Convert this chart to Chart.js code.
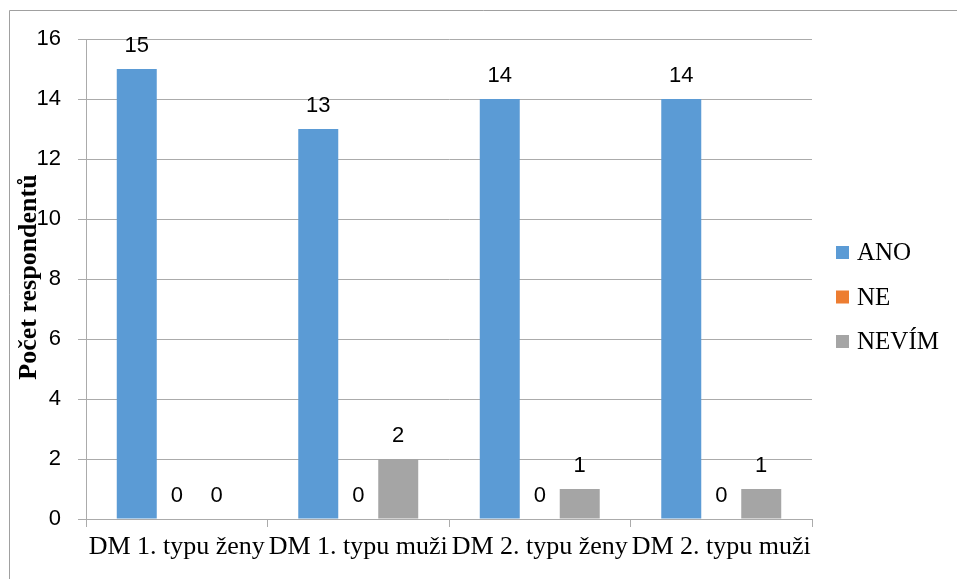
<!DOCTYPE html>
<html>
<head>
<meta charset="utf-8">
<script src="https://cdn.jsdelivr.net/npm/chart.js@4/dist/chart.umd.min.js"></script>
<style>
  body { margin: 0; background: #fff; }
  canvas { display: block; }
</style>
</head>
<body>
<canvas id="myChart" width="957" height="579"></canvas>
<script>
// data
const categories = ["DM 1. typu ženy", "DM 1. typu muži", "DM 2. typu ženy", "DM 2. typu muži"];
const seriesNames = ["ANO", "NE", "NEVÍM"];
const ano = [15, 13, 14, 14];
const ne = [0, 0, 0, 0];
const nevim = [0, 2, 1, 1];
const yTicks = [0, 2, 4, 6, 8, 10, 12, 14, 16];
const colors = ["#5B9BD5", "#ED7D31", "#A5A5A5"];

const gridColor = "#ABABAB";

// frame, y title, legend and value labels
const extras = {
    id: "extras",
    beforeDraw(chart) {
        const ctx = chart.ctx;
        ctx.save();
        ctx.fillStyle = "#fff";
        ctx.fillRect(0, 0, chart.width, chart.height);
        ctx.strokeStyle = "#A0A0A0";
        ctx.lineWidth = 1;
        ctx.beginPath();
        ctx.moveTo(9.5, chart.height);
        ctx.lineTo(9.5, 10.5);
        ctx.lineTo(chart.width, 10.5);
        ctx.stroke();
        ctx.restore();
    },
    afterDatasetsDraw(chart) {
        const ctx = chart.ctx;
        ctx.save();
        ctx.font = "22px 'Liberation Sans'";
        ctx.fillStyle = "#000";
        ctx.textAlign = "center";
        ctx.textBaseline = "alphabetic";
        chart.data.datasets.forEach((ds, i) => {
            chart.getDatasetMeta(i).data.forEach((bar, j) => {
                ctx.fillText(String(ds.data[j]), bar.x, bar.y - 17);
            });
        });
        ctx.restore();
    },
    afterDraw(chart) {
        const ctx = chart.ctx;
        const area = chart.chartArea;
        ctx.save();
        // y axis title
        ctx.translate(29, (area.top + area.bottom) / 2 - 2);
        ctx.rotate(-Math.PI / 2);
        ctx.font = "bold 26px 'Liberation Serif'";
        ctx.fillStyle = "#000";
        ctx.textAlign = "center";
        ctx.textBaseline = "middle";
        ctx.fillText("Počet respondentů", 0, 0);
        ctx.restore();

        // legend
        ctx.save();
        ctx.font = "25px 'Liberation Serif'";
        ctx.textBaseline = "middle";
        ctx.textAlign = "left";
        const cy = (area.top + area.bottom) / 2 + 18;
        chart.data.datasets.forEach((ds, i) => {
            const y = cy + (i - 1) * 44.5;
            ctx.fillStyle = ds.backgroundColor;
            ctx.fillRect(area.right + 24, y - 6.5, 13, 13);
            ctx.fillStyle = "#000";
            ctx.fillText(ds.label, area.right + 45, y + 1);
        });
        ctx.restore();
    }
};

new Chart("myChart", {
    type: "bar",
    data: {
        labels: categories,
        datasets: [
            { label: seriesNames[0], data: ano, backgroundColor: colors[0] },
            { label: seriesNames[1], data: ne, backgroundColor: colors[1] },
            { label: seriesNames[2], data: nevim, backgroundColor: colors[2] }
        ]
    },
    options: {
        responsive: false,
        animation: false,
        layout: {
            padding: { top: 39, right: 145, left: 0, bottom: 0 }
        },
        datasets: {
            bar: {
                barPercentage: 1,
                categoryPercentage: 0.661
            }
        },
        scales: {
            x: {
                afterFit(scale) { scale.height = 60; },
                grid: {
                    offset: true,
                    drawOnChartArea: false,
                    drawTicks: true,
                    tickLength: 8,
                    color: gridColor
                },
                border: { color: gridColor },
                ticks: {
                    color: "#000",
                    autoSkip: false,
                    maxRotation: 0,
                    minRotation: 0,
                    padding: 5,
                    font: { family: "'Liberation Serif'", size: 26 }
                }
            },
            y: {
                min: 0,
                max: 16,
                afterFit(scale) { scale.width = 86; },
                afterBuildTicks(scale) {
                    scale.ticks = yTicks.map(v => ({ value: v }));
                },
                grid: {
                    color: gridColor,
                    tickLength: 8
                },
                border: { color: gridColor },
                ticks: {
                    color: "#000",
                    padding: 17,
                    font: { family: "'Liberation Sans'", size: 22 }
                }
            }
        },
        plugins: {
            legend: { display: false },
            tooltip: { enabled: false }
        }
    },
    plugins: [extras]
});
</script>
</body>
</html>
